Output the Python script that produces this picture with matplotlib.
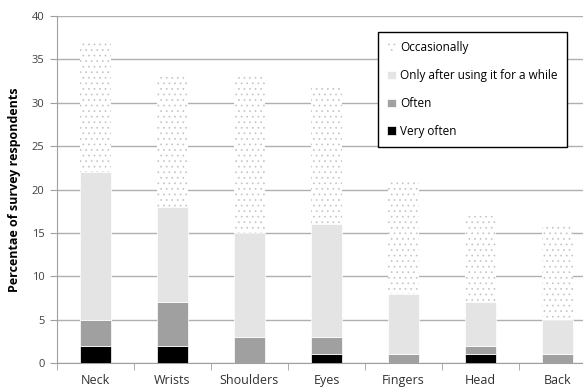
import matplotlib
matplotlib.use("Agg")
import matplotlib.pyplot as plt
import numpy as np

categories = ["Neck", "Wrists", "Shoulders", "Eyes", "Fingers", "Head", "Back"]
very_often = [2, 2, 0, 1, 0, 1, 0]
often = [3, 5, 3, 2, 1, 1, 1]
after_while = [17, 11, 12, 13, 7, 5, 4]
occasionally = [15, 15, 18, 16, 13, 10, 11]
y_ticks = [0, 5, 10, 15, 20, 25, 30, 35, 40]

plt.rcParams['font.family'] = ['Open Sans', 'DejaVu Sans']
plt.rcParams['hatch.linewidth'] = 0.5

fig = plt.figure(figsize=(5.83, 3.9), dpi=100)
ax = fig.add_axes([57/583, 27/390, 539/583, 347/390])

x = np.arange(len(categories))
w = 0.4
b1 = np.array(very_often)
b2 = b1 + np.array(often)
b3 = b2 + np.array(after_while)

ax.bar(x, very_often, w, color='black', edgecolor='white', linewidth=0.5, label='Very often', zorder=3)
ax.bar(x, often, w, bottom=b1, color='#a0a0a0', edgecolor='white', linewidth=0.5, label='Often', zorder=3)
ax.bar(x, after_while, w, bottom=b2, color='#e4e4e4', edgecolor='white', linewidth=0.5, label='Only after using it for a while', zorder=3)
occ = ax.bar(x, occasionally, w, bottom=b3, color='white', edgecolor='#c4c4c4', linewidth=0, hatch='...', label='Occasionally', zorder=3)

ax.set_xlim(-0.5, len(categories) - 0.5)
ax.set_ylim(0, 40)
ax.set_yticks(y_ticks)
ax.yaxis.grid(True, color='#b0b0b0', linewidth=1)
ax.set_axisbelow(True)
for s in ['top', 'right']:
    ax.spines[s].set_visible(False)
ax.spines['left'].set_color('#a0a0a0')
ax.spines['bottom'].set_color('#a0a0a0')
ax.set_xticks(x)
ax.set_xticklabels(categories, fontsize=9, color='#303030')
ax.set_xticks(np.arange(len(categories)) - 0.5, minor=True)
ax.tick_params(axis='x', which='major', length=0, pad=8)
ax.tick_params(axis='x', which='minor', length=5, color='#a0a0a0')
ax.tick_params(axis='y', length=5, color='#a0a0a0', labelsize=8, labelcolor='#404040', pad=4)
ax.set_ylabel('Percentae of survey respondents', fontsize=9, fontweight='bold', labelpad=8)

h, l = ax.get_legend_handles_labels()
leg = ax.legend(h[::-1], l[::-1], loc='upper left', bbox_to_anchor=(372/583, 1 - 26/390),
                bbox_transform=fig.transFigure, frameon=True, fancybox=False,
                edgecolor='black', fontsize=8.5, handlelength=0.7, handleheight=0.7,
                handletextpad=0.4, labelspacing=1.25, borderpad=0.8, framealpha=1)
leg.get_frame().set_linewidth(1)

fig.savefig('out.png', dpi=100)
